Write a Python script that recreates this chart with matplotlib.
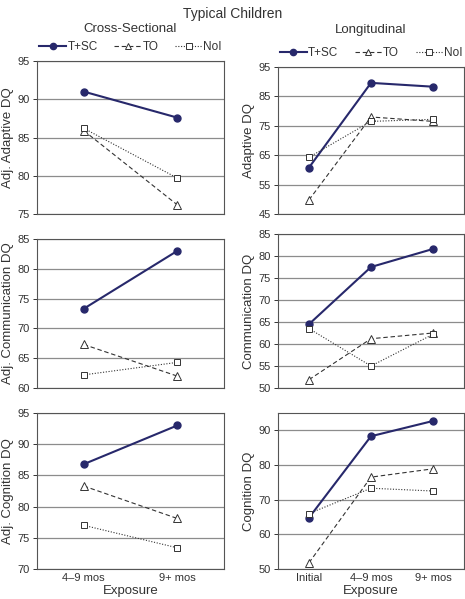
import numpy as np
import matplotlib
matplotlib.use("Agg")
import matplotlib.pyplot as plt

plt.rcParams['font.family'] = ['Liberation Sans', 'DejaVu Sans']

# categories
cross_x = ['4\u20139 mos', '9+ mos']
long_x = ['Initial', '4\u20139 mos', '9+ mos']
groups = ['T+SC', 'TO', 'NoI']

# cross-sectional (adjusted DQ)
cs_adaptive = {'T+SC': [91.0, 87.6], 'TO': [85.9, 76.2], 'NoI': [86.2, 79.7]}
cs_comm = {'T+SC': [73.3, 83.0], 'TO': [67.3, 62.0], 'NoI': [62.2, 64.3]}
cs_cog = {'T+SC': [86.8, 93.0], 'TO': [83.3, 78.1], 'NoI': [77.0, 73.4]}

# longitudinal
lg_adaptive = {'T+SC': [60.8, 89.6, 88.3], 'TO': [49.8, 78.0, 76.5], 'NoI': [64.3, 76.5, 77.2]}
lg_comm = {'T+SC': [64.5, 77.5, 81.6], 'TO': [51.9, 61.2, 62.5], 'NoI': [63.5, 55.0, 62.2]}
lg_cog = {'T+SC': [64.8, 88.3, 92.7], 'TO': [51.8, 76.5, 78.9], 'NoI': [66.0, 73.3, 72.5]}

navy = '#27286b'
styles = {
    'T+SC': dict(color=navy, ls='-', lw=1.5, marker='o', ms=5, mfc=navy, mec=navy),
    'TO': dict(color='#333333', ls=(0, (4, 2.5)), lw=0.8, marker='^', ms=5.5, mfc='white', mec='#333333', mew=0.7),
    'NoI': dict(color='#333333', ls=(0, (1, 1.5)), lw=0.8, marker='s', ms=5, mfc='white', mec='#333333', mew=0.7),
}
txt = '#333333'

fig = plt.figure(figsize=(4.65, 5.99), dpi=100)
W, H = 465.0, 599.0


def make_ax(x0, x1, y0, y1):
    return fig.add_axes([x0 / W, 1 - y1 / H, (x1 - x0) / W, (y1 - y0) / H])


def panel(ax, cats, data, ylim, yticks, ylabel, xlabels=False):
    x = np.arange(len(cats))
    for g in groups:
        ax.plot(x, data[g], label=g, **styles[g])
    ax.set_xlim(-0.5, len(cats) - 0.5)
    ax.set_ylim(*ylim)
    ax.set_yticks(yticks)
    ax.yaxis.grid(True, color='#8c8c8c', lw=0.9)
    ax.set_axisbelow(True)
    for s in ax.spines.values():
        s.set_color('#555555')
        s.set_linewidth(0.8)
    ax.tick_params(axis='y', labelsize=8, length=3, width=0.7, colors=txt, pad=2)
    ax.set_ylabel(ylabel, fontsize=9.5, color=txt, labelpad=3)
    if xlabels:
        ax.set_xticks(x)
        ax.set_xticklabels(cats)
        ax.tick_params(axis='x', labelsize=8, length=0, colors=txt, pad=3)
        ax.set_xlabel('Exposure', fontsize=9.5, color=txt, labelpad=1)
    else:
        ax.set_xticks([])


a1 = make_ax(37, 224, 61, 214)
a2 = make_ax(37, 224, 239, 388)
a3 = make_ax(37, 224, 413, 569)
b1 = make_ax(278, 464, 67, 214)
b2 = make_ax(278, 464, 234, 388)
b3 = make_ax(278, 464, 413, 569)

panel(a1, cross_x, cs_adaptive, (75, 95), [75, 80, 85, 90, 95], 'Adj. Adaptive DQ')
panel(a2, cross_x, cs_comm, (60, 85), [60, 65, 70, 75, 80, 85], 'Adj. Communication DQ')
panel(a3, cross_x, cs_cog, (70, 95), [70, 75, 80, 85, 90, 95], 'Adj. Cognition DQ', xlabels=True)
panel(b1, long_x, lg_adaptive, (45, 95), [45, 55, 65, 75, 85, 95], 'Adaptive DQ')
panel(b2, long_x, lg_comm, (50, 85), [50, 55, 60, 65, 70, 75, 80, 85], 'Communication DQ')
panel(b3, long_x, lg_cog, (50, 95), [50, 60, 70, 80, 90], 'Cognition DQ', xlabels=True)

for ax, title, ty in [(a1, 'Cross-Sectional', 29), (b1, 'Longitudinal', 30)]:
    cx = (ax.get_position().x0 + ax.get_position().x1) / 2
    fig.text(cx, 1 - ty / H, title, ha='center', va='center', fontsize=9.5, color=txt)

leg_kw = dict(loc='center', ncol=3, frameon=False, fontsize=8.5, handlelength=2.3,
              columnspacing=1.4, handletextpad=0.1, borderaxespad=0, markerscale=0.9,
              labelcolor=txt)
a1.legend(bbox_to_anchor=(0.5, 1 + 14 / 153), **leg_kw)
b1.legend(bbox_to_anchor=(0.5, 1 + 14 / 147), **leg_kw)

fig.text(0.5, 1 - 14 / H, 'Typical Children', ha='center', va='center', fontsize=10, color=txt)

fig.savefig('out.png', dpi=100)
